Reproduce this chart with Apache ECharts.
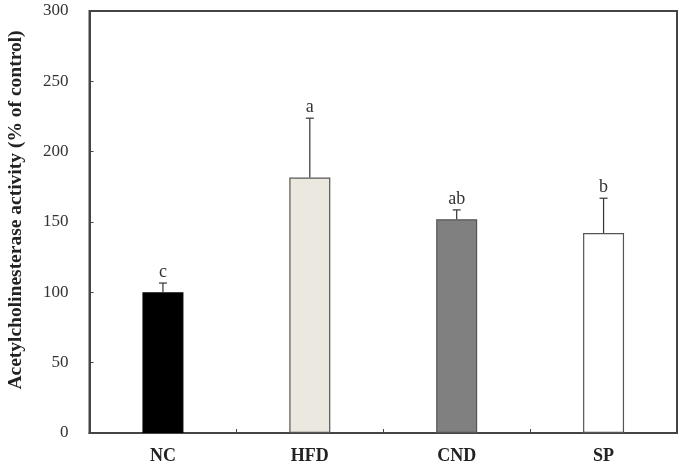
<!DOCTYPE html>
<html>
<head>
<meta charset="utf-8">
<script src="https://cdn.jsdelivr.net/npm/echarts@6/dist/echarts.min.js"></script>
<style>
  html, body { margin: 0; padding: 0; background: #fff; }
  #main { width: 691px; height: 467px; }
</style>
</head>
<body>
<div id="main"></div>
<script>
var groups = ['NC', 'HFD', 'CND', 'SP'];
var means = [100, 181.6, 152, 142.1];
var errors = [6.6, 42.2, 6.6, 24.8];
var letters = ['c', 'a', 'ab', 'b'];
var fills = ['#000000', '#ebe9df', '#808080', '#ffffff'];
var yTicks = [0, 50, 100, 150, 200, 250, 300];

var serif = '"Liberation Serif", "DejaVu Serif", serif';

var myChart = echarts.init(document.getElementById('main'));

// error bar + significance letter for each bar
var errData = [];
for (var i = 0; i < groups.length; i++) {
    errData.push([i, means[i], means[i] + errors[i], letters[i]]);
}

myChart.setOption({
    animation: false,
    grid: {
        left: 89.5, right: 14, top: 11, bottom: 34,
        outerBoundsMode: 'none',
        show: true, borderColor: '#444', borderWidth: 2, backgroundColor: '#fff'
    },
    xAxis: {
        type: 'category',
        data: groups,
        axisLine: { lineStyle: { color: '#444', width: 2 } },
        axisTick: { show: true, inside: true, length: 4, lineStyle: { color: '#444' } },
        axisLabel: { color: '#222', fontFamily: serif, fontWeight: 'bold', fontSize: 18, margin: 14 }
    },
    yAxis: {
        type: 'value',
        min: yTicks[0], max: yTicks[yTicks.length - 1], interval: 50,
        name: 'Acetylcholinesterase activity (% of control)',
        nameLocation: 'middle',
        nameGap: 64,
        nameTextStyle: { color: '#222', fontFamily: serif, fontWeight: 'bold', fontSize: 19.5, padding: [0, 0, 0, 24] },
        axisLine: { show: true, lineStyle: { color: '#444', width: 2 } },
        axisTick: { show: true, inside: true, length: 4, lineStyle: { color: '#444' } },
        splitLine: { show: false },
        axisLabel: { color: '#333', fontFamily: serif, fontSize: 17, margin: 21 }
    },
    series: [
        {
            type: 'bar',
            barWidth: 41,
            data: means.map(function (v, i) {
                return {
                    value: v,
                    itemStyle: { color: fills[i], borderColor: i === 0 ? '#000' : '#555', borderWidth: 1.2 }
                };
            }),
            z: 2
        },
        {
            type: 'custom',
            data: errData,
            z: 3,
            renderItem: function (params, api) {
                var base = api.coord([api.value(0), api.value(1)]);
                var top = api.coord([api.value(0), api.value(2)]);
                var half = 4;
                return {
                    type: 'group',
                    children: [
                        { type: 'line', shape: { x1: base[0], y1: base[1], x2: top[0], y2: top[1] },
                          style: { stroke: '#333', lineWidth: 1.2 } },
                        { type: 'line', shape: { x1: top[0] - half, y1: top[1], x2: top[0] + half, y2: top[1] },
                          style: { stroke: '#333', lineWidth: 1.2 } },
                        { type: 'text', x: top[0], y: top[1] - 2,
                          style: { text: errData[params.dataIndex][3], fill: '#333',
                                   font: '18px ' + serif, textAlign: 'center', textVerticalAlign: 'bottom' } }
                    ]
                };
            }
        }
    ]
});
</script>
</body>
</html>
